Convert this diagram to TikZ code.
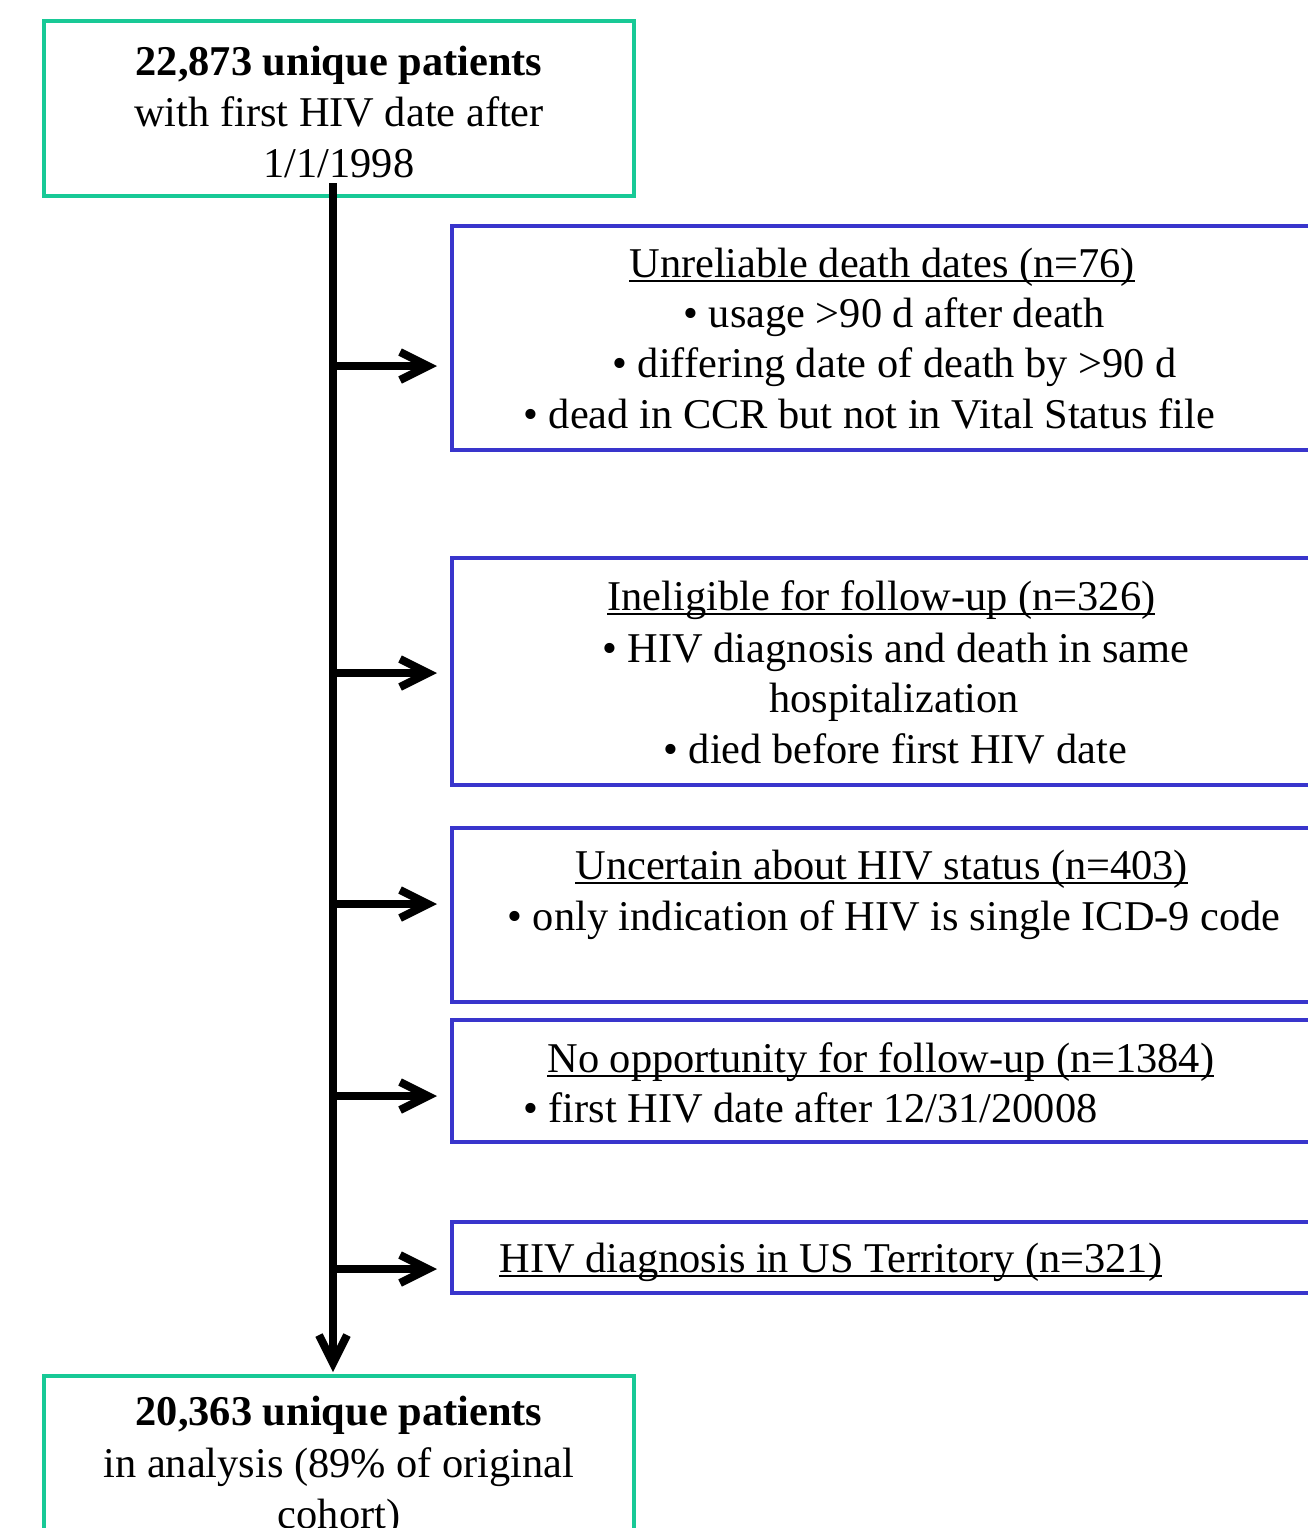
\documentclass[tikz,border=0pt]{standalone}
\usepackage{fontspec}
\setmainfont{Liberation Serif}
\usepackage{xcolor}
\usepackage{tikz}
\usetikzlibrary{arrows.meta}

\definecolor{cohortgreen}{RGB}{24,201,150}
\definecolor{exclblue}{RGB}{57,53,204}
\newcommand{\uline}[1]{\setbox0\hbox{#1}\rlap{\rule[-2.7pt]{\wd0}{1.3pt}}\box0}

\begin{document}
\begin{tikzpicture}[x=0.5pt, y=-0.5pt,
  cohort/.style={draw=cohortgreen, line width=2.4pt, rectangle, anchor=north west, minimum width=295pt, inner sep=0pt, outer sep=0pt},
  excl/.style={draw=exclblue, line width=2.4pt, rectangle, anchor=north west, minimum width=440pt, inner sep=0pt, outer sep=0pt},
  txt/.style={inner sep=0pt, font=\fontsize{21.2pt}{25.5pt}\selectfont},
  ln/.style={txt, anchor=base west},
  mid/.style={txt, anchor=base},
  head/.style={mid, font=\fontsize{21.2pt}{25.5pt}\selectfont\bfseries},
  arrow/.style={-{Straight Barb[length=14pt,width=14pt]}, line width=4pt}
]
\clip (0,0) rectangle (1308,1528);

% cohort boxes
\node[cohort, minimum height=87.5pt] (start) at (44,21) {};
\node[head] (startA) at (339,75) {22,873 unique patients};
\node[mid] (startB) at (339,126) {with first HIV date after};
\node[mid] (startC) at (339,177) {1/1/1998};

\node[cohort, minimum height=100pt] (total) at (44,1376) {};
\node[head] (totalA) at (339,1425) {20,363 unique patients};
\node[mid] (totalB) at (339,1477) {in analysis (89\% of original};
\node[mid] (totalC) at (339,1528) {cohort)};

% exclusion boxes
\node[excl, minimum height=112pt] (unrel) at (452,226) {};
\node[ln] (unrelA) at (629,277) {\uline{Unreliable death dates (n=76)}};
\node[ln] (unrelB) at (683,327) {• usage >90 d after death};
\node[ln] (unrelC) at (612,377) {• differing date of death by >90 d};
\node[ln] (unrelD) at (523,428) {• dead in CCR but not in Vital Status file};

\node[excl, minimum height=113.5pt] (inelig) at (452,558) {};
\node[ln] (ineligA) at (607,610) {\uline{Ineligible for follow-up (n=326)}};
\node[ln] (ineligB) at (602,662) {• HIV diagnosis and death in same};
\node[ln] (ineligC) at (769,712) {hospitalization};
\node[ln] (ineligD) at (663,763) {• died before first HIV date};

\node[excl, minimum height=87pt] (uncert) at (452,828) {};
\node[ln] (uncertA) at (575,879) {\uline{Uncertain about HIV status (n=403)}};
\node[ln] (uncertB) at (507,930) {• only indication of HIV is single ICD-9 code};

\node[excl, minimum height=61pt] (noopp) at (452,1020) {};
\node[ln] (nooppA) at (547,1072) {\uline{No opportunity for follow-up (n=1384)}};
\node[ln] (nooppB) at (523,1122) {• first HIV date after 12/31/20008};

\node[excl, minimum height=35.5pt] (terr) at (452,1222) {};
\node[ln] (terrA) at (499,1272) {\uline{HIV diagnosis in US Territory (n=321)}};

% spine and branches
\coordinate (spine) at (333,183);
\coordinate (s1) at (333,366);
\coordinate (s2) at (333,673);
\coordinate (s3) at (333,904);
\coordinate (s4) at (333,1096);
\coordinate (s5) at (333,1269);
\draw[arrow, shorten >=2pt] (spine) -- (total.north -| spine);
\draw[arrow, shorten >=7.5pt] (s1) -- (s1 -| unrel.west);
\draw[arrow, shorten >=7.5pt] (s2) -- (s2 -| inelig.west);
\draw[arrow, shorten >=7.5pt] (s3) -- (s3 -| uncert.west);
\draw[arrow, shorten >=7.5pt] (s4) -- (s4 -| noopp.west);
\draw[arrow, shorten >=7.5pt] (s5) -- (s5 -| terr.west);
\end{tikzpicture}
\end{document}
